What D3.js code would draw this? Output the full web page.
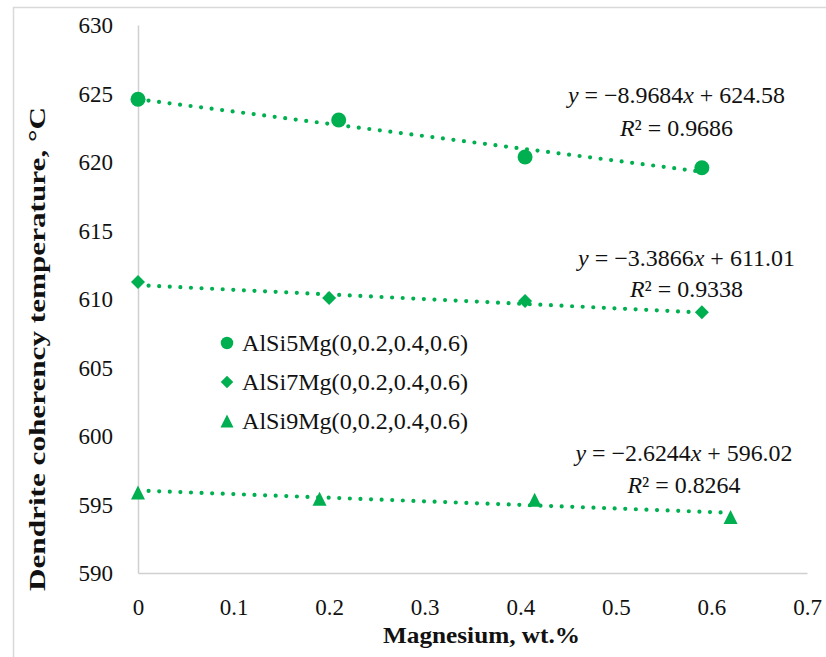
<!DOCTYPE html>
<html>
<head>
<meta charset="utf-8">
<script src="https://cdn.jsdelivr.net/npm/d3@7"></script>
<style>
  body { margin: 0; background: #ffffff; }
  svg text { font-family: "Liberation Serif", "Times New Roman", Tinos, "DejaVu Serif", serif; fill: #111111; }
</style>
</head>
<body>
<svg id="chart" width="826" height="657"></svg>
<script>
// ---- data ----
const seriesNames = ["AlSi5Mg(0,0.2,0.4,0.6)", "AlSi7Mg(0,0.2,0.4,0.6)", "AlSi9Mg(0,0.2,0.4,0.6)"];
const mgSi5 = [0, 0.21, 0.405, 0.59];
const tempSi5 = [624.58, 623.07, 620.37, 619.58];
const mgSi7 = [0, 0.2, 0.405, 0.59];
const tempSi7 = [611.24, 610.07, 609.85, 609.03];
const mgSi9 = [0, 0.19, 0.415, 0.62];
const tempSi9 = [595.88, 595.42, 595.35, 594.09];
// linear trend lines y = slope * x + intercept
const slopes = [-8.9684, -3.3866, -2.6244];
const intercepts = [624.58, 611.01, 596.02];
const rSquared = ["0.9686", "0.9338", "0.8264"];
const xTicks = [0, 0.1, 0.2, 0.3, 0.4, 0.5, 0.6, 0.7];
const yTicks = [590, 595, 600, 605, 610, 615, 620, 625, 630];
const xTitle = "Magnesium, wt.%";
const yTitle = "Dendrite coherency  temperature, °C";

// ---- layout ----
const serif = "'Liberation Serif', 'Times New Roman', Tinos, 'DejaVu Serif', serif";
const green = "#00b050";
const axisGrey = "#d0d0d0";
const svg = d3.select("#chart");
const x = d3.scaleLinear().domain([0, 0.7]).range([138, 807]);
const y = d3.scaleLinear().domain([590, 630]).range([573, 25]);

const series = [
  { name: seriesNames[0], xs: mgSi5, ys: tempSi5, shape: "circle" },
  { name: seriesNames[1], xs: mgSi7, ys: tempSi7, shape: "diamond" },
  { name: seriesNames[2], xs: mgSi9, ys: tempSi9, shape: "triangle" }
].map((s, i) => ({ ...s, slope: slopes[i], intercept: intercepts[i], r2: rSquared[i] }));

// marker path centred on (0,0); size = bounding-box width
function markerPath(shape, size) {
  const h = size / 2;
  if (shape === "circle") {
    return `M${h},0A${h},${h} 0 1,1 ${-h},0A${h},${h} 0 1,1 ${h},0Z`;
  }
  if (shape === "diamond") {
    return `M0,${-h}L${h},0L0,${h}L${-h},0Z`;
  }
  return `M0,${-h}L${h},${h}L${-h},${h}Z`;
}
const markerSize = { circle: 15, diamond: 14, triangle: 14 };
const legendSize = { circle: 12.5, diamond: 12.5, triangle: 13 };

// outer chart frame
svg.append("rect")
  .attr("x", 13.5).attr("y", 7.5)
  .attr("width", 840).attr("height", 680)
  .attr("fill", "none").attr("stroke", "#d9d9d9").attr("stroke-width", 1.5);

// axes (lines only, no tick marks)
const xAxis = svg.append("g").attr("transform", `translate(0,${y(590)})`)
  .call(d3.axisBottom(x).tickValues(xTicks).tickSize(0).tickPadding(0).tickFormat(d3.format("")));
xAxis.attr("font-family", null).attr("font-size", null);
xAxis.select(".domain").attr("stroke", axisGrey).attr("stroke-width", 1.5);
xAxis.selectAll(".tick text")
  .attr("y", 42).attr("dy", 0)
  .style("font-size", "23px").style("font-family", serif).attr("fill", "#111");

const yAxis = svg.append("g").attr("transform", `translate(${x(0)},0)`)
  .call(d3.axisLeft(y).tickValues(yTicks).tickSize(0).tickPadding(0).tickFormat(d3.format("d")));
yAxis.attr("font-family", null).attr("font-size", null);
yAxis.select(".domain").attr("stroke", axisGrey).attr("stroke-width", 1.5);
yAxis.selectAll(".tick text")
  .attr("x", -25).attr("dy", "0.34em")
  .style("font-size", "23px").style("font-family", serif).attr("fill", "#111");

// trend lines (dotted)
series.forEach(s => {
  const x0 = d3.min(s.xs), x1 = d3.max(s.xs);
  svg.append("line")
    .attr("x1", x(x0)).attr("y1", y(s.slope * x0 + s.intercept))
    .attr("x2", x(x1)).attr("y2", y(s.slope * x1 + s.intercept))
    .attr("stroke", green).attr("stroke-width", 4.2)
    .attr("stroke-linecap", "round").attr("stroke-dasharray", "0 10.6");
});

// data markers
series.forEach(s => {
  svg.append("g").selectAll("path")
    .data(s.xs.map((v, i) => [v, s.ys[i]]))
    .join("path")
    .attr("transform", d => `translate(${x(d[0])},${y(d[1])})`)
    .attr("d", markerPath(s.shape, markerSize[s.shape]))
    .attr("fill", green);
});

// trend-line equations
const eqLayout = [
  { cx: 676.5, b1: 103, b2: 136 },
  { cx: 686.5, b1: 266, b2: 297 },
  { cx: 684, b1: 461, b2: 493 }
];
series.forEach((s, i) => {
  const L = eqLayout[i];
  const t1 = svg.append("text").attr("x", L.cx).attr("y", L.b1)
    .attr("text-anchor", "middle").style("font-size", "23px").style("font-family", serif)
    .attr("textLength", 217).attr("lengthAdjust", "spacingAndGlyphs");
  t1.append("tspan").style("font-style", "italic").text("y");
  t1.append("tspan").text(" = \u2212" + Math.abs(s.slope).toFixed(4));
  t1.append("tspan").style("font-style", "italic").text("x");
  t1.append("tspan").text(" + " + s.intercept.toFixed(2));

  const t2 = svg.append("text").attr("x", L.cx).attr("y", L.b2)
    .attr("text-anchor", "middle").style("font-size", "23px").style("font-family", serif)
    .attr("textLength", 113).attr("lengthAdjust", "spacingAndGlyphs");
  t2.append("tspan").style("font-style", "italic").text("R");
  t2.append("tspan").text("\u00b2 = " + s.r2);
});

// legend
const legend = svg.append("g").attr("transform", "translate(227,343)");
series.forEach((s, i) => {
  const row = legend.append("g").attr("transform", `translate(0,${i * 39})`);
  row.append("path").attr("d", markerPath(s.shape, legendSize[s.shape])).attr("fill", green);
  row.append("text").attr("x", 15).attr("y", 0).attr("dy", "0.34em")
    .style("font-size", "23px").style("font-family", serif)
    .attr("textLength", 226).attr("lengthAdjust", "spacingAndGlyphs")
    .text(s.name);
});

// axis titles
svg.append("text")
  .attr("x", 481.5).attr("y", 643)
  .attr("text-anchor", "middle")
  .style("font-size", "24px").style("font-weight", "bold").style("font-family", serif)
  .attr("textLength", 197).attr("lengthAdjust", "spacingAndGlyphs")
  .text(xTitle);

svg.append("text")
  .attr("transform", "translate(45,349) rotate(-90)")
  .attr("text-anchor", "middle")
  .style("font-size", "23px").style("font-weight", "bold").style("font-family", serif)
  .attr("textLength", 484).attr("lengthAdjust", "spacingAndGlyphs")
  .text(yTitle);
</script>
</body>
</html>
